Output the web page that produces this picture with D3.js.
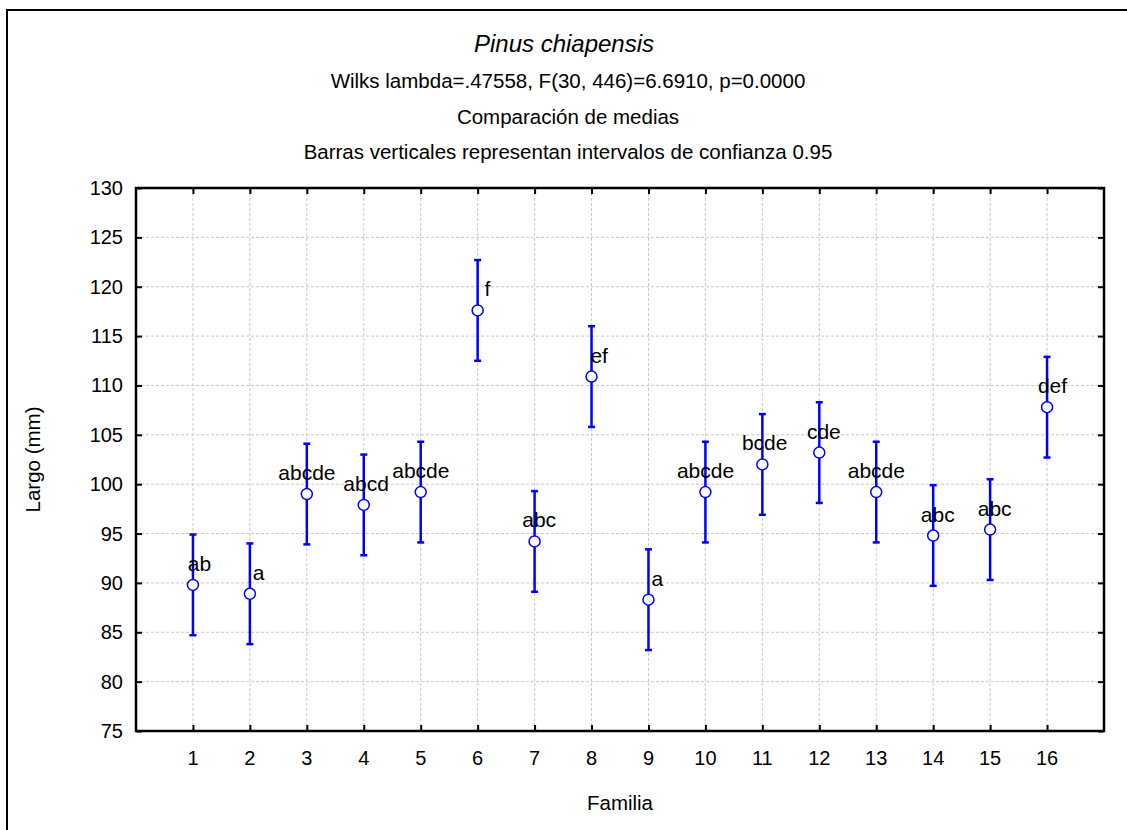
<!DOCTYPE html>
<html>
<head>
<meta charset="utf-8">
<script src="https://cdn.jsdelivr.net/npm/d3@7"></script>
<style>
  body { margin: 0; background: #fff; }
  svg text { font-family: "Liberation Sans", Arial, sans-serif; }
</style>
</head>
<body>
<div id="chart"></div>
<script>
// data
var familias = [1, 2, 3, 4, 5, 6, 7, 8, 9, 10, 11, 12, 13, 14, 15, 16];
var medias = [89.8, 88.9, 99.0, 97.9, 99.2, 117.6, 94.2, 110.9, 88.3, 99.2, 102.0, 103.2, 99.2, 94.8, 95.4, 107.8];
var ic95 = [5.1, 5.1, 5.1, 5.1, 5.1, 5.1, 5.1, 5.1, 5.1, 5.1, 5.1, 5.1, 5.1, 5.1, 5.1, 5.1];
var letras = ["ab", "a", "abcde", "abcd", "abcde", "f", "abc", "ef", "a", "abcde", "bcde", "cde", "abcde", "abc", "abc", "def"];
var yTicks = [75, 80, 85, 90, 95, 100, 105, 110, 115, 120, 125, 130];

var width = 1127,
    height = 830;

var x0 = 136, x1 = 1104, y0 = 188, y1 = 731;

var x = d3.scaleLinear().domain([0, 17]).range([x0, x1]);
var y = d3.scaleLinear().domain([75, 130]).range([y1, y0]);

var svg = d3.select("#chart").append("svg")
    .attr("width", width)
    .attr("height", height);

svg.append("rect")
    .attr("width", width).attr("height", height)
    .attr("fill", "#fff");

// outer frame
svg.append("rect")
    .attr("x", 7).attr("y", 10)
    .attr("width", width + 20).attr("height", height + 20)
    .attr("fill", "none")
    .attr("stroke", "#000")
    .attr("stroke-width", 2);

// titles
svg.append("text")
    .attr("x", 564).attr("y", 52)
    .attr("text-anchor", "middle")
    .style("font-size", "24px")
    .style("font-style", "italic")
    .text("Pinus chiapensis");

var subs = ["Wilks lambda=.47558, F(30, 446)=6.6910, p=0.0000",
            "Comparación de medias",
            "Barras verticales representan intervalos de confianza 0.95"];
svg.selectAll(".sub")
    .data(subs).enter().append("text")
    .attr("class", "sub")
    .attr("x", 568)
    .attr("y", function (d, i) { return 88 + i * 35.5; })
    .attr("text-anchor", "middle")
    .style("font-size", "20.5px")
    .text(function (d) { return d; });

// grid
var grid = svg.append("g")
    .attr("stroke", "#c8c8c8")
    .attr("stroke-width", 1)
    .attr("stroke-dasharray", "3,2");

grid.selectAll(".gy")
    .data(yTicks.slice(1, -1)).enter().append("line")
    .attr("x1", x0).attr("x2", x1)
    .attr("y1", function (d) { return y(d); })
    .attr("y2", function (d) { return y(d); });

grid.selectAll(".gx")
    .data(familias).enter().append("line")
    .attr("y1", y0).attr("y2", y1)
    .attr("x1", function (d) { return x(d); })
    .attr("x2", function (d) { return x(d); });

// axes (ticks pointing inward on all four sides)
var axL = d3.axisRight(y).tickValues(yTicks).tickSize(6).tickFormat("");
var axR = d3.axisLeft(y).tickValues(yTicks).tickSize(6).tickFormat("");
var axB = d3.axisTop(x).tickValues(familias).tickSize(6).tickFormat("");
var axT = d3.axisBottom(x).tickValues(familias).tickSize(6).tickFormat("");

[[axL, "translate(" + x0 + ",0)"], [axR, "translate(" + x1 + ",0)"],
 [axB, "translate(0," + y1 + ")"], [axT, "translate(0," + y0 + ")"]].forEach(function (a) {
    var g = svg.append("g").attr("transform", a[1]).call(a[0]);
    g.select(".domain").remove();
    g.selectAll("line").attr("stroke", "#000").attr("stroke-width", 2);
});

svg.append("rect")
    .attr("x", x0).attr("y", y0)
    .attr("width", x1 - x0).attr("height", y1 - y0)
    .attr("fill", "none")
    .attr("stroke", "#000")
    .attr("stroke-width", 2.5);

// tick labels
svg.selectAll(".yl")
    .data(yTicks).enter().append("text")
    .attr("x", x0 - 13)
    .attr("y", function (d) { return y(d) + 7; })
    .attr("text-anchor", "end")
    .style("font-size", "20px")
    .text(function (d) { return d; });

svg.selectAll(".xl")
    .data(familias).enter().append("text")
    .attr("x", function (d) { return x(d); })
    .attr("y", 765)
    .attr("text-anchor", "middle")
    .style("font-size", "20px")
    .text(function (d) { return d; });

// axis titles
svg.append("text")
    .attr("transform", "translate(40," + ((y0 + y1) / 2) + ") rotate(-90)")
    .attr("text-anchor", "middle")
    .style("font-size", "20.5px")
    .text("Largo (mm)");

svg.append("text")
    .attr("x", (x0 + x1) / 2).attr("y", 810)
    .attr("text-anchor", "middle")
    .style("font-size", "20.5px")
    .text("Familia");

// error bars
var pts = familias.map(function (f, i) {
    return { f: f, m: medias[i], lo: medias[i] - ic95[i], hi: medias[i] + ic95[i], lab: letras[i] };
});

var bars = svg.append("g")
    .attr("stroke", "#0000ff")
    .attr("stroke-width", 2.5);

bars.selectAll(".bar")
    .data(pts).enter().append("line")
    .attr("x1", function (d) { return x(d.f); })
    .attr("x2", function (d) { return x(d.f); })
    .attr("y1", function (d) { return y(d.lo); })
    .attr("y2", function (d) { return y(d.hi); });

bars.selectAll(".capHi")
    .data(pts).enter().append("line")
    .attr("x1", function (d) { return x(d.f) - 3.5; })
    .attr("x2", function (d) { return x(d.f) + 3.5; })
    .attr("y1", function (d) { return y(d.hi); })
    .attr("y2", function (d) { return y(d.hi); });

bars.selectAll(".capLo")
    .data(pts).enter().append("line")
    .attr("x1", function (d) { return x(d.f) - 3.5; })
    .attr("x2", function (d) { return x(d.f) + 3.5; })
    .attr("y1", function (d) { return y(d.lo); })
    .attr("y2", function (d) { return y(d.lo); });

svg.selectAll(".pt")
    .data(pts).enter().append("circle")
    .attr("cx", function (d) { return x(d.f); })
    .attr("cy", function (d) { return y(d.m); })
    .attr("r", 5.5)
    .attr("fill", "#fff")
    .attr("stroke", "#0000ff")
    .attr("stroke-width", 1.5);

// group letters
svg.selectAll(".lab")
    .data(pts).enter().append("text")
    .attr("y", function (d) { return y(d.m) - 14; })
    .attr("text-anchor", "middle")
    .style("font-size", "21px")
    .text(function (d) { return d.lab; })
    .attr("x", function (d) {
        var w = this.getComputedTextLength();
        return x(d.f) + 11 - 0.19 * w;
    });
</script>
</body>
</html>
